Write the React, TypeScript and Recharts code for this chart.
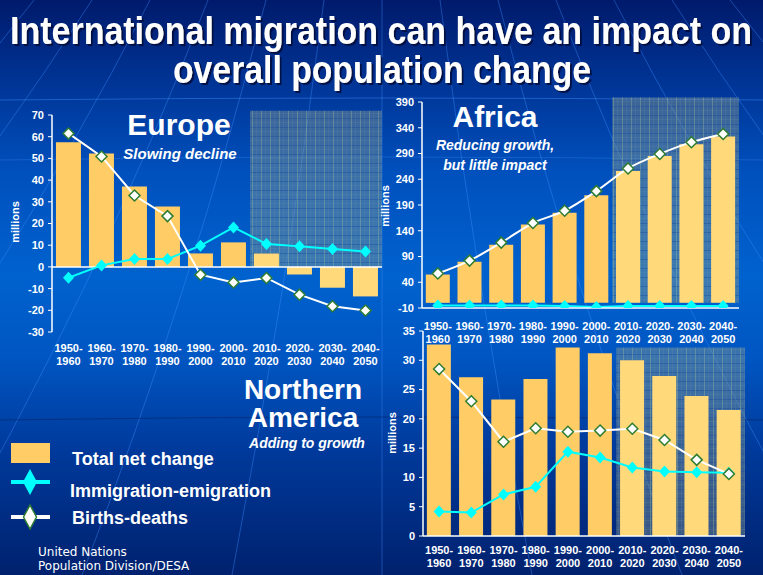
import { Bar, Cell, ComposedChart, Line, ReferenceArea, ReferenceLine, XAxis, YAxis } from "recharts";

// decades shown on every panel
const periods = [
  "1950-1960", "1960-1970", "1970-1980", "1980-1990", "1990-2000",
  "2000-2010", "2010-2020", "2020-2030", "2030-2040", "2040-2050",
];
// decades from here on are projections (shaded)
const firstProjection = "2010-2020";
const lastProjection = "2040-2050";

// millions of people per decade
const europeTotal = [57.4, 52.3, 37, 27.8, 6.2, 11.3, 6.2, -3.5, -9.6, -13.6];
const europeMigration = [-5, 0.7, 3.6, 3.6, 9.8, 18.2, 10.6, 9.5, 8.2, 7.1];
const europeNatural = [61.5, 50.9, 32.9, 23.4, -3.6, -7.2, -5.1, -12.8, -18.1, -20.1];

const africaTotal = [55, 80, 113, 152, 175, 209, 256, 285, 308, 323];
const africaMigration = [-5, -5, -5, -5, -6, -8, -6, -6, -6, -6];
const africaNatural = [57, 82, 117, 155, 179, 217, 261, 289, 312, 328];

const naTotal = [32.7, 27.1, 23.3, 26.8, 32.2, 31.2, 30.0, 27.3, 23.9, 21.5];
const naMigration = [4.2, 4.0, 7.1, 8.4, 14.4, 13.4, 11.7, 11.0, 10.9, 10.8];
const naNatural = [28.5, 23.0, 16.1, 18.4, 17.8, 18.0, 18.3, 16.4, 13.0, 10.6];

const europeTicks = [-30, -20, -10, 0, 10, 20, 30, 40, 50, 60, 70];
const africaTicks = [-10, 40, 90, 140, 190, 240, 290, 340, 390];
const naTicks = [0, 5, 10, 15, 20, 25, 30, 35];

const FONT = "'Liberation Sans', Arial, sans-serif";
const BAR = "#ffcc66";
const BAR_PROJ = "#ffd97a";
const CYAN = "#00ffff";
const GREEN = "#2e7d32";

const build = (total: number[], migration: number[], natural: number[]) =>
  periods.map((period, i) => ({ period, total: total[i], migration: migration[i], natural: natural[i] }));

const europeData = build(europeTotal, europeMigration, europeNatural);
const africaData = build(africaTotal, africaMigration, africaNatural);
const naData = build(naTotal, naMigration, naNatural);

const projStart = periods.indexOf(firstProjection);

function cyanDiamond(p: any) {
  const { cx, cy, index } = p;
  if (cx == null || cy == null) return <g key={index} />;
  return <polygon key={index} points={`${cx},${cy - 6} ${cx + 5.5},${cy} ${cx},${cy + 6} ${cx - 5.5},${cy}`} fill={CYAN} />;
}

function whiteDiamond(p: any) {
  const { cx, cy, index } = p;
  if (cx == null || cy == null) return <g key={index} />;
  return (
    <polygon
      key={index}
      points={`${cx},${cy - 5.5} ${cx + 5.5},${cy} ${cx},${cy + 5.5} ${cx - 5.5},${cy}`}
      fill="#fff"
      stroke={GREEN}
      strokeWidth={1.5}
    />
  );
}

const periodTick = (offset: number) => (props: any) => {
  const { x, y, payload } = props;
  const [from, to] = String(payload.value).split("-");
  return (
    <text x={x} y={y + offset} textAnchor="middle" fill="#fff" fontSize={11} fontWeight="bold" fontFamily={FONT}>
      <tspan x={x}>{from}-</tspan>
      <tspan x={x} dy={13}>{to}</tspan>
    </text>
  );
};

const yTick = { fill: "#fff", fontSize: 11, fontWeight: "bold", fontFamily: FONT };

function Hatch({ id }: { id: string }) {
  return (
    <defs>
      <pattern id={id} width="9" height="9" patternUnits="userSpaceOnUse">
        <rect width="9" height="9" fill="#8c9c8c" fillOpacity={0.42} />
        <path d="M0 0.5H9" stroke="#1d4aa0" strokeOpacity={0.45} strokeWidth={1} />
        <path d="M0.5 0V9" stroke="#b4d09a" strokeOpacity={0.3} strokeWidth={1} />
        <path d="M0 4.5H9M4.5 0V9" stroke="#6f8fb0" strokeOpacity={0.18} strokeWidth={1} />
      </pattern>
    </defs>
  );
}

type PanelProps = {
  data: ReturnType<typeof build>;
  width: number;
  height: number;
  margin: { top: number; right: number; bottom: number; left: number };
  domain: [number, number];
  ticks: number[];
  xHeight: number;
  labelOffset: number;
  zeroLine?: boolean;
  shadeTop: number;
  hatchId: string;
  smooth?: boolean;
};

// the projection shading sits in its own chart underneath, with the same band scale
function Shade(p: PanelProps) {
  return (
    <ComposedChart width={p.width} height={p.height} data={p.data} margin={p.margin}>
      <Hatch id={p.hatchId} />
      <XAxis dataKey="period" scale="band" height={p.xHeight} interval={0} axisLine={false} tickLine={false} tick={false} />
      <YAxis width={52} domain={p.domain} ticks={p.ticks} allowDataOverflow axisLine={false} tickLine={false} tick={false} />
      <ReferenceArea
        x1={firstProjection}
        x2={lastProjection}
        y1={0}
        y2={p.shadeTop}
        ifOverflow="visible"
        fill={`url(#${p.hatchId})`}
        fillOpacity={1}
        stroke="none"
      />
    </ComposedChart>
  );
}

function Panel(p: PanelProps) {
  return (
    <ComposedChart width={p.width} height={p.height} data={p.data} margin={p.margin} barCategoryGap="12%">
      <XAxis
        dataKey="period"
        height={p.xHeight}
        interval={0}
        axisLine={p.zeroLine ? false : { stroke: "#fff", strokeWidth: 1.5 }}
        tickLine={false}
        tickSize={0}
        tickMargin={0}
        tick={periodTick(p.labelOffset)}
      />
      <YAxis
        width={52}
        domain={p.domain}
        ticks={p.ticks}
        interval={0}
        allowDataOverflow
        axisLine={{ stroke: "#fff", strokeWidth: 1.5 }}
        tickLine={{ stroke: "#fff" }}
        tickSize={4}
        tickMargin={4}
        tick={yTick}
      />
      <Bar dataKey="total" isAnimationActive={false}>
        {p.data.map((d, i) => (
          <Cell key={d.period} fill={i >= projStart ? BAR_PROJ : BAR} />
        ))}
      </Bar>
      {p.zeroLine && <ReferenceLine y={0} stroke="#fff" strokeWidth={1.5} />}
      <Line
        type="linear"
        dataKey="migration"
        stroke={CYAN}
        strokeWidth={2}
        dot={cyanDiamond}
        activeDot={false}
        isAnimationActive={false}
      />
      <Line
        type={p.smooth ? "monotone" : "linear"}
        dataKey="natural"
        stroke="#fff"
        strokeWidth={2}
        dot={whiteDiamond}
        activeDot={false}
        isAnimationActive={false}
      />
    </ComposedChart>
  );
}

function Layered(p: PanelProps & { left: number; top: number }) {
  return (
    <div style={{ position: "absolute", left: p.left, top: p.top, width: p.width, height: p.height }}>
      <div style={{ position: "absolute", left: 0, top: 0 }}>
        <Shade {...p} />
      </div>
      <div style={{ position: "absolute", left: 0, top: 0 }}>
        <Panel {...p} />
      </div>
    </div>
  );
}

// faint globe lines behind the slide
const meridians = Array.from({ length: 15 }, (_, i) => i - 7);

export default function App() {
  return (
    <div
      style={{
        position: "fixed",
        left: 0,
        top: 0,
        width: 763,
        height: 575,
        overflow: "hidden",
        fontFamily: FONT,
        background:
          "linear-gradient(180deg, #001a6b 0%, #00308f 12%, #0050bd 30%, #0062ce 48%, #0056c2 62%, #003a9c 78%, #00216e 100%)",
      }}
    >
      <style>{"body{margin:0}"}</style>
      <svg width={763} height={575} style={{ position: "absolute", left: 0, top: 0 }}>
        {meridians.map((k) => (
          <path
            key={k}
            d={`M${382 + k * 58},0 Q${382 + k * 95},290 ${382 + k * 150},575`}
            stroke="#3f8fff"
            strokeOpacity={0.4}
            strokeWidth={1}
            fill="none"
          />
        ))}
        <path d="M0,100 Q382,96 763,100" stroke="#3f8fff" strokeOpacity={0.45} fill="none" />
        <path d="M0,160 Q382,154 763,160" stroke="#3f8fff" strokeOpacity={0.3} fill="none" />
        <path d="M0,420 Q382,414 763,420" stroke="#002060" strokeOpacity={0.5} fill="none" />
      </svg>

      <Layered
        left={0}
        top={100}
        data={europeData}
        width={390}
        height={275}
        margin={{ top: 15, right: 8, bottom: 0, left: 0 }}
        domain={[-30, 70]}
        ticks={europeTicks}
        xHeight={43}
        labelOffset={20}
        zeroLine
        shadeTop={72}
        hatchId="hatchEurope"
      />
      <Layered
        left={371}
        top={318}
        data={naData}
        width={385}
        height={257}
        margin={{ top: 13, right: 11, bottom: 0, left: 0 }}
        domain={[0, 35]}
        ticks={naTicks}
        xHeight={39}
        labelOffset={18}
        shadeTop={32.2}
        hatchId="hatchNA"
      />
      <Layered
        left={370}
        top={88}
        data={africaData}
        width={380}
        height={260}
        margin={{ top: 14, right: 11, bottom: 0, left: 0 }}
        domain={[-10, 390]}
        ticks={africaTicks}
        xHeight={40}
        labelOffset={22}
        shadeTop={399}
        hatchId="hatchAfrica"
        smooth
      />

      <svg width={763} height={575} style={{ position: "absolute", left: 0, top: 0, pointerEvents: "none" }}>
        <defs>
          <filter id="titleShadow" x="-5%" y="-20%" width="110%" height="150%">
            <feDropShadow dx="2" dy="2" stdDeviation="0.6" floodColor="#001040" floodOpacity="0.9" />
          </filter>
        </defs>
        {/* title */}
        <g
          filter="url(#titleShadow)"
          fill="#fff"
          fontFamily="'Liberation Sans Narrow', 'Liberation Sans', Arial, sans-serif"
          fontWeight="bold"
          fontSize={38}
        >
          <text x={10} y={44} textLength={742} lengthAdjust="spacingAndGlyphs">
            International migration can have an impact on
          </text>
          <text x={173} y={83} textLength={418} lengthAdjust="spacingAndGlyphs">
            overall population change
          </text>
        </g>

        {/* panel titles */}
        <g fill="#fff" fontFamily={FONT} fontWeight="bold" textAnchor="middle">
          <text x={179} y={135} fontSize={30}>Europe</text>
          <text x={180} y={159} fontSize={15} fontStyle="italic">Slowing decline</text>
          <text x={495} y={127} fontSize={30}>Africa</text>
          <text x={495} y={150} fontSize={14} fontStyle="italic">Reducing growth,</text>
          <text x={495} y={170} fontSize={14} fontStyle="italic">but little impact</text>
          <text x={303} y={399} fontSize={28}>Northern</text>
          <text x={303} y={427} fontSize={28}>America</text>
          <text x={307} y={448} fontSize={14} fontStyle="italic">Adding to growth</text>
        </g>

        {/* axis titles */}
        <g fill="#fff" fontFamily={FONT} fontWeight="bold" fontSize={11} textAnchor="middle">
          <text transform="translate(19,222) rotate(-90)">millions</text>
          <text transform="translate(389,206) rotate(-90)">millions</text>
          <text transform="translate(396,433) rotate(-90)">millions</text>
        </g>

        {/* legend */}
        <rect x={11} y={443} width={39} height={20} fill={BAR} />
        <line x1={11} y1={482} x2={50} y2={482} stroke={CYAN} strokeWidth={4} />
        <polygon points="30,469 37,482 30,495 23,482" fill={CYAN} />
        <line x1={11} y1={517} x2={50} y2={517} stroke="#fff" strokeWidth={4} />
        <polygon points="30,505 36.5,517 30,529 23.5,517" fill="#fff" stroke={GREEN} strokeWidth={1.5} />
        <g fill="#fff" fontFamily={FONT} fontWeight="bold" fontSize={18}>
          <text x={72} y={465}>Total net change</text>
          <text x={70} y={497}>Immigration-emigration</text>
          <text x={72} y={524}>Births-deaths</text>
        </g>
        <g fill="#fff" fontFamily="'DejaVu Sans', Verdana, sans-serif" fontSize={12}>
          <text x={38} y={556}>United Nations</text>
          <text x={38} y={570}>Population Division/DESA</text>
        </g>
      </svg>
    </div>
  );
}
